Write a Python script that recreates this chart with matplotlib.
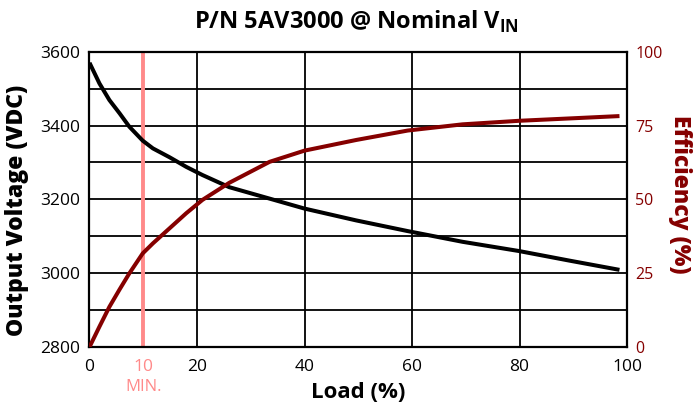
import matplotlib
matplotlib.use('Agg')
import matplotlib.pyplot as plt

plt.rcParams['font.family'] = ['Open Sans', 'DejaVu Sans']
plt.rcParams['mathtext.fontset'] = 'custom'
plt.rcParams['mathtext.rm'] = 'Open Sans'
plt.rcParams['mathtext.bf'] = 'Open Sans:bold'

# values
load = [0, 1.85, 3.7, 5.6, 7.4, 9.9, 11.8, 14.9, 18, 21, 26, 33.5, 40, 49.6, 59.2, 69.4, 79.9, 89.3, 98.6]
voltage = [3570, 3514, 3469, 3433, 3397, 3359, 3338, 3314, 3288, 3266, 3233, 3202, 3175, 3143, 3114, 3085, 3060, 3034, 3009]
efficiency = [0, 6.9, 13.6, 19.5, 24.9, 31.7, 35.1, 40.2, 45.3, 49.8, 55.6, 62.7, 66.5, 70.1, 73.3, 75.4, 76.6, 77.4, 78.2]
min_load = 10

dark_red = '#850000'
pink = '#ff8a8a'

fig = plt.figure(figsize=(6.94, 4.07), dpi=100)
ax = fig.add_axes([89.5/694, 60/407, 537.5/694, 295.3/407])

# grid
for v in range(2900, 3600, 100):
    ax.axhline(v, color='black', lw=1.3, zorder=1)
for x in [20, 40, 60, 80]:
    ax.axvline(x, color='black', lw=1.3, zorder=1)
ax.axvline(min_load, color=pink, lw=2.8, zorder=2)

ax.plot(load, voltage, color='black', lw=2.9, zorder=4, solid_capstyle='butt')
ax.set_xlim(0, 100)
ax.set_ylim(2800, 3600)
ax.set_xticks([0, 10, 20, 40, 60, 80, 100])
ax.set_xticklabels(['0', '10', '20', '40', '60', '80', '100'])
ax.get_xticklabels()[1].set_color(pink)
ax.set_yticks([2800, 3000, 3200, 3400, 3600])
ax.tick_params(axis='x', length=0, labelsize=12.5, pad=8.5)
ax.tick_params(axis='y', length=0, labelsize=12.5, pad=7)
for s in ax.spines.values():
    s.set_linewidth(1.6)

ax2 = ax.twinx()
ax2.plot(load, efficiency, color=dark_red, lw=2.9, zorder=4, solid_capstyle='butt')
ax2.set_ylim(0, 100)
ax2.set_yticks([0, 25, 50, 75, 100])
ax2.tick_params(length=0, labelsize=11.5, labelcolor=dark_red, pad=6)
for s in ax2.spines.values():
    s.set_visible(False)

# labels placed in figure pixels
W, H = 694, 407
fig.text(143.3 / W, 1 - 387 / H, 'MIN.', color=pink, fontsize=12, ha='center', va='center')
fig.text(358 / W, 1 - 393 / H, 'Load (%)', fontsize=16, fontweight='bold', ha='center', va='center')
fig.text(17 / W, 1 - 210 / H, 'Output Voltage (VDC)', fontsize=16.5, fontweight='heavy',
         rotation=90, ha='center', va='center')
fig.text(680 / W, 1 - 194 / H, 'Efficiency (%)', fontsize=16.5, fontweight='heavy', color=dark_red,
         rotation=270, ha='center', va='center')
fig.text(356 / W, 1 - 22 / H, r'P/N 5AV3000 @ Nominal V$_{\mathbf{IN}}$', fontsize=17,
         fontweight='bold', ha='center', va='center')

fig.savefig('out.png', dpi=100)
